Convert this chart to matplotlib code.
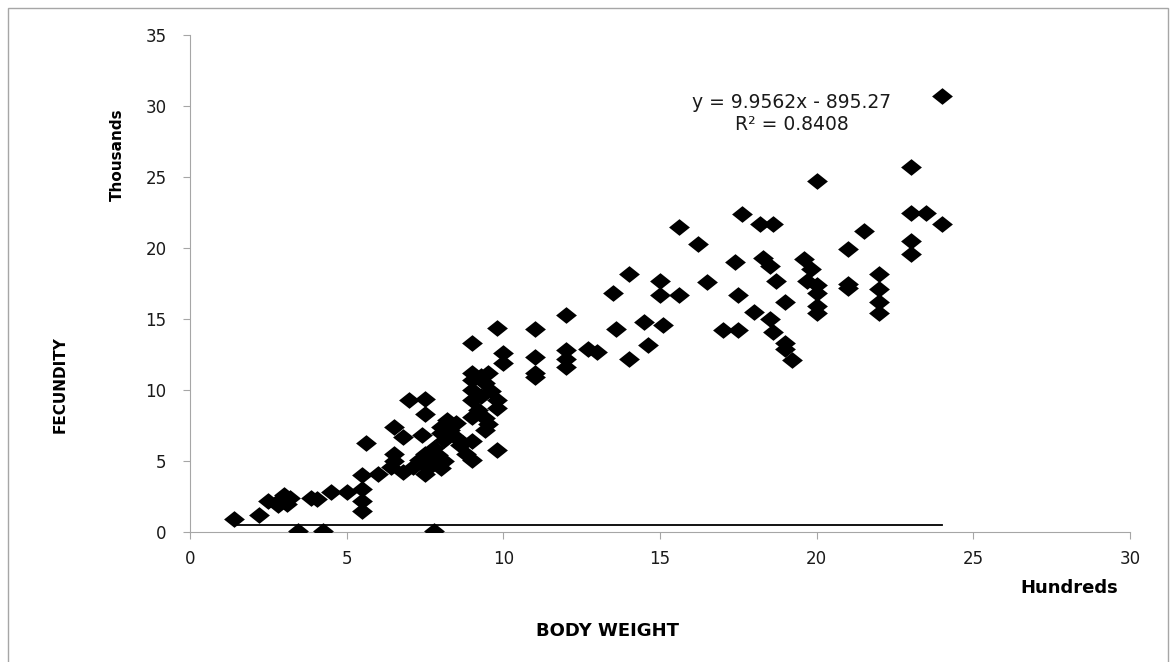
import matplotlib
matplotlib.use("Agg")
import matplotlib.pyplot as plt
from matplotlib.patches import Rectangle

# body weight (hundreds) vs fecundity (thousands)
body_weight = [
    1.4, 2.2, 2.5, 2.8, 2.9, 3.0, 3.1, 3.2, 3.45, 3.85, 4.05, 4.25, 4.5, 5.0,
    5.5, 5.5, 5.5, 5.5, 5.6, 6.0, 6.5, 6.5, 6.5, 6.4, 6.8, 6.8, 7.0, 7.1, 7.3,
    7.4, 7.5, 7.5, 7.5, 7.5, 7.6, 7.7, 7.8, 7.8, 7.9, 8.0, 8.0, 8.0, 8.1, 8.1,
    8.2, 8.3, 8.4, 8.5, 8.6, 8.7, 8.8, 9.0, 9.0, 9.0, 9.0, 9.0, 9.0, 9.0, 9.0,
    9.2, 9.3, 9.3, 9.4, 9.4, 9.4, 9.5, 9.5, 9.6, 9.8, 9.8, 9.8, 9.8, 10.0, 10.0,
    11.0, 11.0, 11.0, 11.0, 12.0, 12.0, 12.0, 12.0, 12.7, 13.0, 13.5, 13.6,
    14.0, 14.0, 14.5, 14.6, 15.0, 15.0, 15.1, 15.6, 15.6, 16.2, 16.5, 17.0,
    17.4, 17.5, 17.5, 17.6, 18.0, 18.2, 18.3, 18.5, 18.5, 18.6, 18.6, 18.7,
    19.0, 19.0, 19.0, 19.2, 19.6, 19.7, 19.8, 20.0, 20.0, 20.0, 20.0, 20.0,
    21.0, 21.0, 21.0, 21.5, 22.0, 22.0, 22.0, 22.0, 23.0, 23.0, 23.0, 23.0,
    23.5, 24.0, 24.0,
]
fecundity = [
    0.9, 1.2, 2.2, 1.9, 2.3, 2.6, 2.0, 2.4, 0.05, 2.4, 2.3, 0.05, 2.8, 2.85,
    4.0, 3.0, 2.15, 1.45, 6.3, 4.05, 7.4, 5.5, 5.0, 4.6, 6.7, 4.2, 9.3, 4.6, 5.1,
    6.8, 9.4, 8.3, 5.5, 4.1, 4.5, 4.9, 0.05, 5.9, 5.4, 4.5, 7.4, 7.0, 6.5, 5.0,
    7.9, 7.2, 6.8, 7.7, 6.1, 6.3, 5.5, 13.3, 11.2, 10.7, 10.0, 9.3, 8.1, 6.4, 5.1,
    8.6, 11.0, 9.6, 10.5, 8.0, 7.2, 11.2, 7.6, 9.9, 14.4, 9.3, 8.7, 5.8, 12.6, 11.9,
    14.3, 12.3, 11.2, 10.9, 15.3, 12.8, 12.2, 11.6, 12.9, 12.7, 16.85, 14.3,
    18.2, 12.2, 14.8, 13.2, 17.7, 16.7, 14.6, 21.5, 16.7, 20.3, 17.6, 14.2,
    19.0, 16.7, 14.2, 22.4, 15.5, 21.7, 19.3, 18.7, 15.0, 21.7, 14.1, 17.7,
    16.2, 13.3, 12.9, 12.1, 19.2, 17.7, 18.5, 24.7, 17.4, 16.8, 15.9, 15.4,
    19.9, 17.5, 17.2, 21.2, 18.2, 17.1, 16.2, 15.4, 25.7, 22.5, 20.5, 19.6,
    22.5, 30.7, 21.7,
]

trend_level = 0.5  # the flat black trendline as it shows in the chart
equation = "y = 9.9562x - 895.27\nR\u00b2 = 0.8408"

x_ticks = [0, 5, 10, 15, 20, 25, 30]
y_ticks = [0, 5, 10, 15, 20, 25, 30, 35]

fig = plt.figure(figsize=(11.76, 6.62), dpi=100)
ax = fig.add_axes([0.1616, 0.1964, 0.7994, 0.7506])

# outer chart border
fig.patches.append(Rectangle((8 / 1176, -0.01), 1160 / 1176, 654 / 662 + 0.01,
                             transform=fig.transFigure, fill=False,
                             edgecolor="#a6a6a6", linewidth=1.0))

diamond = [(-1, 0), (0, 0.8), (1, 0), (0, -0.8), (-1, 0)]
ax.scatter(body_weight, fecundity, marker=diamond, s=225, color="black",
           linewidths=0, zorder=3)
ax.plot([min(body_weight), max(body_weight)], [trend_level, trend_level],
        color="black", linewidth=1.3, zorder=2)

ax.set_xlim(0, 30)
ax.set_ylim(0, 35)
ax.set_xticks(x_ticks)
ax.set_yticks(y_ticks)
for s in ["top", "right"]:
    ax.spines[s].set_visible(False)
for s in ["left", "bottom"]:
    ax.spines[s].set_color("#a6a6a6")
ax.tick_params(direction="out", length=5, color="#a6a6a6", labelsize=12,
               labelcolor="#1a1a1a")
ax.tick_params(axis="y", pad=12)
ax.tick_params(axis="x", pad=8)

ax.text(19.2, 29.5, equation, ha="center", va="center", fontsize=13.5,
        linespacing=1.2, color="#1a1a1a")

fig.text(1069 / 1176, 1 - 588 / 662, "Hundreds", ha="center", va="center",
         fontsize=13, fontweight="bold")
fig.text(608 / 1176, 1 - 631 / 662, "BODY WEIGHT", ha="center", va="center",
         fontsize=13, fontweight="bold")
fig.text(60 / 1176, 1 - 385 / 662, "FECUNDITY", ha="center", va="center",
         fontsize=11, fontweight="bold", rotation=90)
fig.text(117 / 1176, 1 - 155 / 662, "Thousands", ha="center", va="center",
         fontsize=11, fontweight="bold", rotation=90)

fig.savefig("out.png", dpi=100)
